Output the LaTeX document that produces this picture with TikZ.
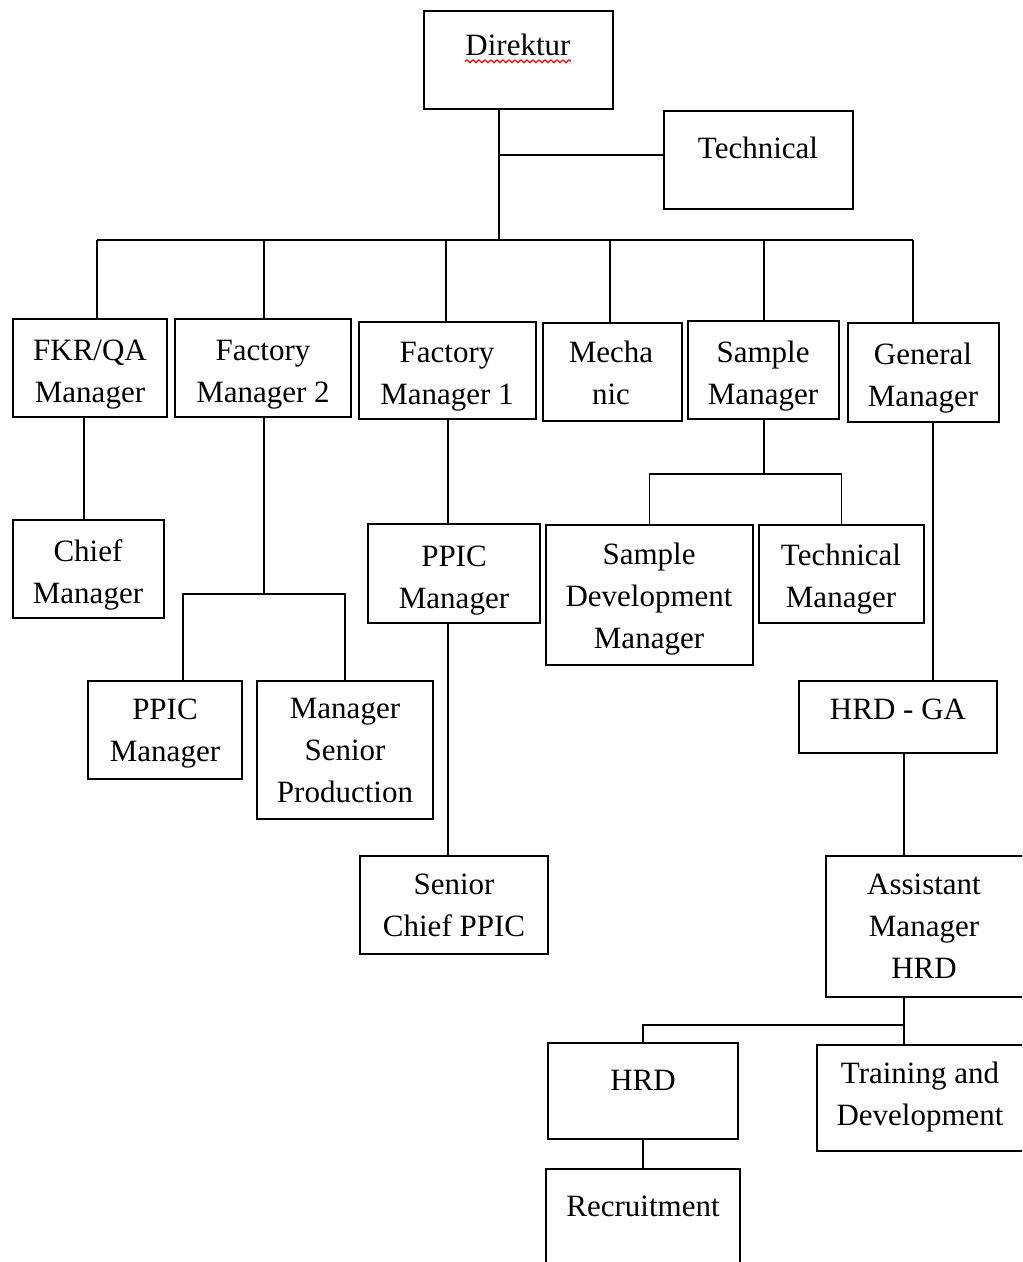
\documentclass[tikz,border=0pt]{standalone}
\usepackage{fontspec}
\setmainfont{Liberation Serif}
\usepackage{tikz}
\usetikzlibrary{fit}
\usetikzlibrary{decorations.pathmorphing}
\tikzset{
  orgbox/.style={draw,rectangle,line width=0.9pt,inner sep=0pt},
  orgtext/.style={align=center,inner sep=0pt,font=\fontsize{15.5}{21}\selectfont},
  orgline/.style={line width=0.9pt},
}

\begin{document}
\begin{tikzpicture}[x=0.5pt,y=-0.5pt]
        %%% FRAME %%%
        \useasboundingbox (0,0) rectangle (1022,1262);
        \clip (0,0) rectangle (1022,1262);

        %%% BOXES %%%
        \node[orgbox,fit={(424,11) (613,109)}] (dir) {};
        \node[orgbox,fit={(664,111) (853,209)}] (tech) {};
        \node[orgbox,fit={(13,319) (167,417)}] (fkr) {};
        \node[orgbox,fit={(175,319) (351,417)}] (fm2) {};
        \node[orgbox,fit={(359,322) (536,419)}] (fm1) {};
        \node[orgbox,fit={(543,323) (682,421)}] (mech) {};
        \node[orgbox,fit={(688,321) (839,419)}] (samp) {};
        \node[orgbox,fit={(848,323) (999,422)}] (gm) {};
        \node[orgbox,fit={(13,520) (164,618)}] (chief) {};
        \node[orgbox,fit={(368,524) (540,623)}] (ppic1) {};
        \node[orgbox,fit={(546,525) (753,665)}] (sdm) {};
        \node[orgbox,fit={(759,525) (924,623)}] (tm) {};
        \node[orgbox,fit={(88,681) (242,779)}] (ppic2) {};
        \node[orgbox,fit={(257,681) (433,819)}] (msp) {};
        \node[orgbox,fit={(799,681) (997,753)}] (hrdga) {};
        \node[orgbox,fit={(360,856) (548,954)}] (scp) {};
        \node[orgbox,fit={(826,856) (1026,997)}] (asst) {};
        \node[orgbox,fit={(548,1043) (738,1139)}] (hrd) {};
        \node[orgbox,fit={(817,1045) (1026,1151)}] (train) {};
        \node[orgbox,fit={(546,1169) (740,1290)}] (rec) {};

        %%% LABELS %%%
        \node[orgtext] (dirtxt) at (518,45) {Direktur};
        \node[orgtext] (techtxt) at (758,148) {Technical};
        \node[orgtext] (fkrtxt) at (90,375) {FKR/QA\\Manager};
        \node[orgtext] (fm2txt) at (263,375) {Factory\\Manager 2};
        \node[orgtext] (fm1txt) at (447,377) {Factory\\Manager 1};
        \node[orgtext] (mechtxt) at (611,373) {Mecha\\nic};
        \node[orgtext] (samptxt) at (763,376) {Sample\\Manager};
        \node[orgtext] (gmtxt) at (923,378) {General\\Manager};
        \node[orgtext] (chieftxt) at (88,575) {Chief\\Manager};
        \node[orgtext] (ppic1txt) at (454,581) {PPIC\\Manager};
        \node[orgtext] (sdmtxt) at (649,599) {Sample\\Development\\Manager};
        \node[orgtext] (tmtxt) at (841,579) {Technical\\Manager};
        \node[orgtext] (ppic2txt) at (165,734) {PPIC\\Manager};
        \node[orgtext] (msptxt) at (345,750) {Manager\\Senior\\Production};
        \node[orgtext] (hrdgatxt) at (898,709) {HRD - GA};
        \node[orgtext] (scptxt) at (454,905) {Senior\\Chief PPIC};
        \node[orgtext] (assttxt) at (924,926) {Assistant\\Manager\\HRD};
        \node[orgtext] (hrdtxt) at (643,1080) {HRD};
        \node[orgtext] (traintxt) at (920,1097) {Training and\\Development};
        \node[orgtext] (rectxt) at (643,1206) {Recruitment};

        % spell check mark
        \draw[red,line width=0.6pt,decorate,decoration={snake,amplitude=0.7pt,segment length=3pt}]
            ([yshift=-2.5pt]dirtxt.south west) -- ([yshift=-2.5pt]dirtxt.south east);

        %%% CONNECTORS %%%
        \coordinate (bus) at (499,240);
        \coordinate (techjoin) at (499,155);
        \draw[orgline] (bus |- dir.south) -- (bus);
        \draw[orgline] (techjoin) -- (techjoin -| tech.west);
        \draw[orgline] (97,240) coordinate (busl) -- (913,240) coordinate (busr);
        \foreach \x/\n in {97/fkr,264/fm2,446/fm1,610/mech,764/samp,913/gm}
            {\coordinate (drop) at (\x,240);
             \draw[orgline] (drop) -- (drop |- \n.north);}

        % under FKR/QA
        \coordinate (fkrx) at (84,0);
        \draw[orgline] (fkrx |- fkr.south) -- (fkrx |- chief.north);

        % under Factory Manager 2
        \coordinate (fm2join) at (264,594);
        \coordinate (fm2l) at (183,594);
        \coordinate (fm2r) at (345,594);
        \draw[orgline] (fm2join |- fm2.south) -- (fm2join);
        \draw[orgline] (fm2l |- ppic2.north) -- (fm2l) -- (fm2r) -- (fm2r |- msp.north);

        % under Factory Manager 1
        \coordinate (fm1x) at (448,0);
        \draw[orgline] (fm1x |- fm1.south) -- (fm1x |- ppic1.north);
        \draw[orgline] (fm1x |- ppic1.south) -- (fm1x |- scp.north);

        % under Sample Manager
        \coordinate (sjoin) at (764,474);
        \draw[orgline] (sjoin |- samp.south) -- (sjoin);
        \draw[orgline] (sdm.north) -- (sdm.north |- sjoin) -- (tm.north |- sjoin) -- (tm.north);

        % under General Manager
        \coordinate (gmx) at (933,0);
        \draw[orgline] (gmx |- gm.south) -- (gmx |- hrdga.north);
        \coordinate (hx) at (904,0);
        \draw[orgline] (hx |- hrdga.south) -- (hx |- asst.north);
        \coordinate (ajoin) at (904,1025);
        \draw[orgline] (hx |- asst.south) -- (ajoin) -- (hrd.north |- ajoin) -- (hrd.north);
        \draw[orgline] (ajoin) -- (ajoin |- train.north);
        \draw[orgline] (hrd.south) -- (rec.north);
    \end{tikzpicture}
\end{document}
